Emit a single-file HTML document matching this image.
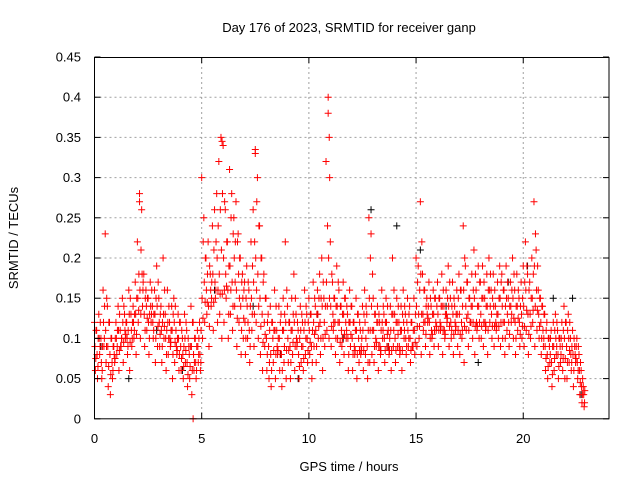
<!DOCTYPE html>
<html><head><meta charset="utf-8"><style>
body{margin:0;background:#fff}
svg{display:block;font-family:"Liberation Sans",sans-serif}
</style></head><body>
<svg id="chart" width="640" height="480">
<text x="349" y="32" font-size="13" text-anchor="middle">Day 176 of 2023, SRMTID for receiver ganp</text>
<text x="349" y="471" font-size="13" text-anchor="middle">GPS time / hours</text>
<text transform="translate(18,238) rotate(-90)" font-size="13" text-anchor="middle">SRMTID / TECUs</text>
<g id="grid"></g><g id="marks"></g><g id="axes"></g>
</svg>
<script>
const xTicks=[0,5,10,15,20];
const yTicks=[0,0.05,0.1,0.15,0.2,0.25,0.3,0.35,0.4,0.45];
const yTickLabels=["0","0.05","0.1","0.15","0.2","0.25","0.3","0.35","0.4","0.45"];
const times=[0.0,0.1,0.2,0.3,0.4,0.5,0.6,0.7,0.8,0.9,1.0,1.1,1.2,1.3,1.4,1.5,1.6,1.7,1.8,1.9,2.0,2.1,2.2,2.3,2.4,2.5,2.6,2.7,2.8,2.9,3.0,3.1,3.2,3.3,3.4,3.5,3.6,3.7,3.8,3.9,4.0,4.1,4.2,4.3,4.4,4.5,4.6,4.7,4.8,4.9,5.0,5.1,5.2,5.3,5.4,5.5,5.6,5.7,5.8,5.9,6.0,6.1,6.2,6.3,6.4,6.5,6.6,6.7,6.8,6.9,7.0,7.1,7.2,7.3,7.4,7.5,7.6,7.7,7.8,7.9,8.0,8.1,8.2,8.3,8.4,8.5,8.6,8.7,8.8,8.9,9.0,9.1,9.2,9.3,9.4,9.5,9.6,9.7,9.8,9.9,10.0,10.1,10.2,10.3,10.4,10.5,10.6,10.7,10.8,10.9,11.0,11.1,11.2,11.3,11.4,11.5,11.6,11.7,11.8,11.9,12.0,12.1,12.2,12.3,12.4,12.5,12.6,12.7,12.8,12.9,13.0,13.1,13.2,13.3,13.4,13.5,13.6,13.7,13.8,13.9,14.0,14.1,14.2,14.3,14.4,14.5,14.6,14.7,14.8,14.9,15.0,15.1,15.2,15.3,15.4,15.5,15.6,15.7,15.8,15.9,16.0,16.1,16.2,16.3,16.4,16.5,16.6,16.7,16.8,16.9,17.0,17.1,17.2,17.3,17.4,17.5,17.6,17.7,17.8,17.9,18.0,18.1,18.2,18.3,18.4,18.5,18.6,18.7,18.8,18.9,19.0,19.1,19.2,19.3,19.4,19.5,19.6,19.7,19.8,19.9,20.0,20.1,20.2,20.3,20.4,20.5,20.6,20.7,20.8,20.9,21.0,21.1,21.2,21.3,21.4,21.5,21.6,21.7,21.8,21.9,22.0,22.1,22.2,22.3,22.4,22.5,22.6,22.7,22.8];
const hiValues=[.12,.11,.13,.10,.16,.23,.14,.12,.10,.09,.12,.14,.11,.15,.13,.12,.16,.13,.14,.17,.22,.28,.26,.18,.16,.15,.17,.14,.16,.19,.15,.14,.20,.13,.16,.12,.14,.15,.11,.13,.12,.10,.13,.11,.09,.14,.12,.10,.11,.12,.30,.25,.20,.22,.18,.24,.26,.28,.32,.35,.34,.26,.22,.31,.28,.25,.27,.23,.20,.18,.17,.19,.16,.22,.26,.33,.30,.24,.20,.18,.15,.13,.14,.12,.16,.11,.14,.13,.15,.22,.14,.12,.15,.18,.13,.11,.14,.12,.16,.13,.15,.13,.17,.14,.16,.18,.20,.15,.32,.40,.22,.17,.15,.19,.16,.14,.17,.15,.13,.16,.14,.12,.15,.13,.11,.14,.16,.13,.25,.23,.15,.13,.14,.12,.16,.13,.15,.11,.14,.20,.13,.15,.12,.14,.16,.13,.15,.14,.12,.15,.20,.19,.27,.18,.16,.15,.17,.14,.16,.15,.17,.15,.18,.14,.16,.19,.15,.17,.14,.16,.18,.16,.24,.19,.17,.15,.18,.21,.16,.19,.17,.19,.15,.18,.20,.16,.18,.14,.17,.19,.18,.16,.19,.15,.17,.20,.16,.18,.15,.17,.19,.22,.18,.17,.20,.27,.21,.16,.15,.14,.13,.12,.10,.11,.12,.13,.11,.10,.12,.14,.12,.13,.10,.11,.09,.10,.08,.06,.04];
const upperMidValues=[.11,.10,.12,.09,.14,.15,.12,.10,.09,.10,.11,.13,.10,.14,.12,.11,.15,.12,.13,.15,.18,.21,.17,.15,.15,.13,.16,.13,.15,.17,.13,.12,.16,.11,.14,.11,.13,.14,.10,.12,.11,.09,.12,.10,.09,.12,.10,.09,.10,.11,.22,.20,.18,.19,.17,.21,.22,.24,.26,.28,.27,.22,.19,.25,.23,.22,.22,.20,.17,.16,.15,.17,.14,.19,.22,.27,.24,.20,.17,.15,.12,.11,.12,.11,.14,.10,.12,.11,.13,.16,.12,.11,.13,.15,.12,.10,.13,.11,.14,.12,.13,.11,.15,.13,.15,.15,.17,.14,.24,.30,.18,.15,.14,.17,.14,.13,.15,.14,.12,.14,.12,.11,.13,.12,.10,.13,.14,.11,.20,.18,.13,.12,.13,.11,.14,.12,.14,.10,.13,.16,.12,.14,.11,.13,.14,.12,.13,.12,.11,.13,.17,.16,.22,.16,.14,.14,.15,.13,.15,.14,.15,.14,.16,.13,.15,.17,.14,.15,.13,.15,.16,.14,.20,.17,.15,.14,.16,.18,.14,.17,.15,.17,.14,.16,.18,.15,.16,.13,.15,.17,.16,.14,.17,.14,.16,.18,.14,.16,.14,.15,.17,.19,.16,.15,.18,.23,.19,.15,.14,.13,.11,.10,.10,.09,.11,.12,.10,.10,.11,.12,.11,.12,.09,.10,.09,.09,.07,.05,.035];
const midValues=[.09,.08,.10,.07,.12,.11,.09,.08,.07,.08,.10,.11,.09,.12,.11,.10,.13,.11,.12,.13,.15,.16,.18,.13,.14,.12,.14,.12,.13,.14,.12,.11,.13,.10,.12,.10,.11,.12,.09,.10,.09,.08,.10,.07,.08,.09,.08,.07,.09,.08,.15,.17,.16,.14,.16,.18,.17,.20,.18,.21,.20,.18,.16,.19,.17,.20,.16,.18,.14,.15,.12,.14,.11,.15,.17,.20,.18,.15,.13,.12,.10,.09,.08,.10,.11,.09,.10,.08,.11,.12,.10,.09,.11,.12,.10,.08,.11,.09,.12,.10,.11,.09,.12,.11,.13,.12,.14,.12,.17,.20,.14,.13,.12,.14,.12,.11,.13,.12,.10,.12,.10,.09,.11,.10,.08,.11,.12,.09,.15,.14,.11,.10,.12,.09,.12,.10,.12,.09,.11,.13,.10,.12,.09,.11,.12,.10,.11,.10,.09,.11,.14,.13,.18,.13,.12,.13,.12,.11,.13,.12,.13,.12,.14,.11,.13,.14,.12,.13,.12,.13,.13,.12,.16,.14,.13,.12,.14,.15,.12,.14,.13,.15,.12,.14,.16,.13,.14,.12,.13,.15,.14,.12,.15,.12,.14,.15,.12,.14,.12,.13,.14,.16,.13,.13,.15,.19,.16,.13,.12,.11,.09,.08,.09,.07,.09,.10,.08,.09,.09,.10,.09,.10,.08,.08,.08,.07,.06,.04,.03];
const lowerMidValues=[.075,.065,.09,.06,.10,.09,.065,.055,.06,.075,.09,.085,.10,.095,.105,.09,.095,.10,.11,.105,.135,.13,.16,.11,.125,.10,.13,.11,.10,.115,.105,.09,.115,.08,.10,.095,.08,.095,.085,.08,.075,.065,.085,.055,.065,.06,.07,.06,.08,.07,.125,.145,.145,.115,.15,.145,.16,.16,.155,.155,.16,.165,.13,.16,.14,.17,.125,.15,.11,.125,.10,.12,.09,.13,.13,.16,.14,.115,.095,.105,.08,.07,.06,.085,.08,.085,.08,.06,.09,.085,.085,.07,.095,.09,.095,.065,.09,.075,.10,.085,.095,.07,.105,.09,.115,.10,.10,.105,.14,.15,.115,.12,.10,.12,.095,.10,.105,.11,.08,.105,.08,.085,.08,.085,.085,.085,.10,.07,.11,.11,.09,.095,.09,.085,.11,.085,.105,.085,.085,.11,.085,.105,.085,.085,.11,.09,.10,.085,.09,.095,.115,.115,.13,.12,.105,.125,.10,.105,.11,.115,.11,.115,.11,.105,.125,.115,.11,.105,.115,.11,.105,.11,.115,.125,.11,.12,.12,.115,.115,.12,.115,.12,.115,.11,.14,.115,.115,.115,.115,.12,.12,.10,.13,.105,.13,.125,.10,.125,.105,.115,.115,.135,.105,.115,.135,.14,.135,.115,.10,.10,.075,.065,.08,.055,.075,.09,.065,.08,.075,.075,.07,.085,.07,.06,.075,.06,.045,.03,.02];
const loValues=[.06,.05,.08,.05,.09,.07,.04,.03,.05,.07,.08,.06,.09,.07,.10,.08,.06,.09,.10,.08,.12,.10,.14,.09,.11,.08,.12,.10,.07,.09,.09,.07,.10,.06,.08,.09,.05,.07,.08,.06,.06,.05,.07,.04,.05,.03,.06,.05,.07,.06,.10,.12,.13,.09,.14,.11,.15,.12,.13,.10,.12,.15,.10,.13,.11,.14,.09,.12,.08,.10,.08,.10,.07,.11,.09,.12,.10,.08,.06,.09,.06,.05,.04,.07,.05,.08,.06,.04,.07,.05,.07,.05,.08,.06,.09,.05,.07,.06,.08,.07,.08,.05,.09,.07,.10,.08,.06,.09,.11,.10,.09,.11,.08,.10,.07,.09,.08,.10,.06,.09,.06,.08,.05,.07,.09,.06,.08,.05,.07,.08,.07,.09,.06,.08,.10,.07,.09,.08,.06,.09,.07,.09,.08,.06,.10,.08,.09,.07,.09,.08,.09,.10,.08,.11,.09,.12,.08,.10,.09,.11,.09,.11,.08,.10,.12,.09,.10,.08,.11,.09,.08,.10,.07,.11,.09,.12,.10,.08,.11,.10,.10,.09,.11,.08,.12,.10,.09,.11,.10,.09,.10,.08,.11,.09,.12,.10,.08,.11,.09,.10,.09,.11,.08,.10,.12,.09,.11,.10,.08,.09,.06,.05,.07,.04,.06,.08,.05,.07,.06,.05,.05,.07,.06,.04,.07,.05,.03,.02,.015];
const blackTimes=[0.3,1.6,2.9,4.1,5.6,7.4,8.7,9.5,10.4,11.6,12.9,13.7,14.1,15.2,16.4,17.9,19.3,20.2,21.4,22.3,22.7];
const blackValues=[.09,.05,.11,.06,.16,.14,.08,.05,.13,.10,.26,.09,.24,.21,.14,.07,.17,.19,.15,.15,.03];
const extraTimes=[4.6,10.9,10.95,7.5,5.95,2.1];
const extraValues=[0.0,.38,.35,.335,.345,.27];

const xScale=h=>94.5+h*(514.5/24);
const yScale=v=>418.8-v*(361.8/0.45);
const NS="http://www.w3.org/2000/svg";
const grid=document.getElementById('grid'),marks=document.getElementById('marks'),axes=document.getElementById('axes');
function mk(tag,attrs,parent){const e=document.createElementNS(NS,tag);for(const k in attrs)e.setAttribute(k,attrs[k]);parent.appendChild(e);return e;}
yTicks.forEach((v,i)=>{
  const y=yScale(v);
  if(i>0&&i<yTicks.length-1){const g=mk('line',{x1:94.5,x2:609,y1:y,y2:y,stroke:'#a0a0a0','stroke-dasharray':'2,3'},grid);
  
  }
  mk('line',{x1:94.5,x2:100.5,y1:y,y2:y,stroke:'#000'},axes);
  mk('line',{x1:603,x2:609,y1:y,y2:y,stroke:'#000'},axes);
  const t=mk('text',{x:81,y:y+4.5,'font-size':13,'text-anchor':'end'},axes);t.textContent=yTickLabels[i];
  
  
});
xTicks.forEach(h=>{
  const x=xScale(h);
  if(h>0){const g=mk('line',{x1:x,x2:x,y1:57,y2:418.8,stroke:'#a0a0a0','stroke-dasharray':'2,3'},grid);
  
  }
  mk('line',{x1:x,x2:x,y1:418.8,y2:412.8,stroke:'#000'},axes);
  mk('line',{x1:x,x2:x,y1:57,y2:63,stroke:'#000'},axes);
  const t=mk('text',{x:x,y:443,'font-size':13,'text-anchor':'middle'},axes);t.textContent=String(h);
  
  
});
const frame=mk('rect',{x:94.5,y:57.5,width:514.5,height:361.3,fill:'none',stroke:'#000'},axes);


function cross(h,v,color,name){
  const x=xScale(h),y=yScale(v);
  const p=mk('path',{d:`M${x-3.5},${y}h7M${x},${y-3.5}v7`,stroke:color,'stroke-width':1,fill:'none'},marks);
  
  
}
blackTimes.forEach((t,i)=>cross(t,blackValues[i],'#000','black-point'));
times.forEach((t,i)=>{
  cross(t,hiValues[i],'#ff0000','red-point');
  cross(t+0.07,upperMidValues[i],'#ff0000','red-point');
  cross(t+0.02,midValues[i],'#ff0000','red-point');
  cross(t+0.06,lowerMidValues[i],'#ff0000','red-point');
  cross(t+0.04,loValues[i],'#ff0000','red-point');
});
extraTimes.forEach((t,i)=>cross(t,extraValues[i],'#ff0000','red-point'));
</script>
</body></html>
